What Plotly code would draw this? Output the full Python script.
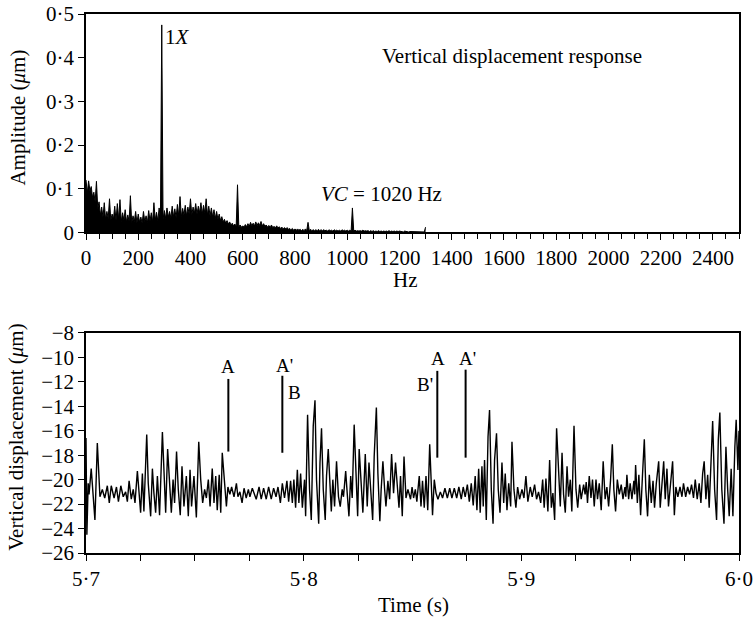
import plotly.graph_objects as go

FONT = "Liberation Serif, Times New Roman, serif"

# ---------------- Top panel: amplitude spectrum ----------------
# spike heights at 10 Hz bins
peak_freq_hz = list(range(0, 1310, 10))
peak_amp_um = [
    0.120, 0.118, 0.105, 0.092, 0.117, 0.070, 0.058, 0.068, 0.048, 0.077,
    0.042, 0.060, 0.066, 0.075, 0.045, 0.052, 0.040, 0.084, 0.038, 0.048,
    0.042, 0.035, 0.048, 0.038, 0.050, 0.045, 0.068, 0.046, 0.056, 0.475,
    0.050, 0.056, 0.048, 0.060, 0.054, 0.064, 0.082, 0.055, 0.062, 0.058,
    0.077, 0.058, 0.066, 0.060, 0.068, 0.062, 0.077, 0.060, 0.056, 0.052,
    0.048, 0.042, 0.036, 0.030, 0.027, 0.024, 0.021, 0.019, 0.109, 0.017,
    0.015, 0.018, 0.020, 0.023, 0.021, 0.024, 0.022, 0.025, 0.020, 0.017,
    0.016, 0.017, 0.014, 0.015, 0.013, 0.012, 0.011, 0.011, 0.009, 0.009,
    0.008, 0.008, 0.007, 0.007, 0.008, 0.023, 0.007, 0.006, 0.006, 0.007,
    0.006, 0.006, 0.005, 0.006, 0.005, 0.006, 0.005, 0.005, 0.006, 0.005,
    0.005, 0.005, 0.056, 0.005, 0.004, 0.004, 0.005, 0.004, 0.004, 0.004,
    0.004, 0.003, 0.004, 0.003, 0.003, 0.003, 0.004, 0.003, 0.003, 0.003,
    0.003, 0.002, 0.003, 0.002, 0.002, 0.002, 0.002, 0.002, 0.002, 0.002,
    0.012,
]
# level of the dense noise mass between the spikes
trough_freq_hz = list(range(5, 1300, 10))
trough_amp_um = [
    0.090, 0.095, 0.080, 0.070, 0.055, 0.040, 0.035, 0.030, 0.032, 0.028,
    0.030, 0.027, 0.030, 0.025, 0.028, 0.024, 0.026, 0.022, 0.025, 0.022,
    0.024, 0.021, 0.025, 0.022, 0.026, 0.024, 0.028, 0.026, 0.030, 0.030,
    0.032, 0.035, 0.033, 0.036, 0.034, 0.038, 0.036, 0.040, 0.038, 0.042,
    0.040, 0.044, 0.042, 0.045, 0.042, 0.044, 0.040, 0.038, 0.035, 0.032,
    0.030, 0.027, 0.024, 0.021, 0.019, 0.017, 0.015, 0.014, 0.013, 0.012,
    0.012, 0.013, 0.014, 0.015, 0.015, 0.016, 0.016, 0.015, 0.014, 0.012,
    0.011, 0.011, 0.010, 0.010, 0.009, 0.008, 0.008, 0.007, 0.006, 0.005,
    0.005, 0.005, 0.004, 0.004, 0.004, 0.004, 0.004, 0.004, 0.004, 0.004,
    0.004, 0.004, 0.003, 0.004, 0.003, 0.004, 0.003, 0.003, 0.004, 0.003,
    0.003, 0.003, 0.003, 0.003, 0.003, 0.003, 0.003, 0.003, 0.002, 0.002,
    0.002, 0.002, 0.002, 0.002, 0.002, 0.002, 0.002, 0.002, 0.002, 0.002,
    0.002, 0.001, 0.002, 0.001, 0.002, 0.001, 0.002, 0.001, 0.002, 0.001,
]

freq_ticks = list(range(0, 2600, 200))
amp_ticks = [0, 0.1, 0.2, 0.3, 0.4, 0.5]
amp_ticktext = ["0", "0·1", "0·2", "0·3", "0·4", "0·5"]

# ---------------- Bottom panel: time history ----------------
time_ms = [
    0.0, 0.4, 1.0, 1.4, 2.4, 3.1, 4.1, 5.2, 6.4, 7.5, 8.6, 9.8, 10.7, 11.6, 12.9, 14.0, 14.9, 16.0,
    17.1, 18.2, 19.0, 19.8, 20.8, 21.7, 22.5, 23.6, 24.3, 25.1, 25.9, 26.6, 27.9, 28.6, 29.7, 30.5,
    31.2, 32.0, 32.8, 33.8, 35.1, 35.8, 36.6, 37.5, 38.4, 39.2, 40.0, 40.7, 41.6, 42.4, 43.3, 44.1,
    45.0, 46.1, 47.0, 47.8, 48.5, 49.6, 50.7, 51.8, 52.7, 53.6, 54.5, 55.3, 56.2, 57.0, 58.0, 58.8,
    59.6, 60.3, 61.2, 61.9, 62.6, 63.4, 64.5, 65.2, 66.1, 66.9, 68.0, 69.1, 69.8, 70.7, 71.7, 72.6,
    73.6, 74.6, 75.3, 76.4,
    78.2, 79.5, 80.5, 81.6, 82.8, 83.9, 85.1, 86.2, 87.3, 88.2, 89.3, 90.2, 91.2, 92.3, 93.1, 94.0,
    94.8, 95.5, 96.3, 97.1, 97.8, 98.6, 99.4, 100.4, 100.9, 101.8, 102.7, 103.5, 104.4, 105.2, 105.9,
    106.9, 107.5, 108.2, 109.0, 109.9, 110.5, 111.3, 112.1, 112.7, 113.4, 114.2, 115.1, 116.0, 116.8,
    117.7, 118.3, 119.3, 120.0, 120.8, 121.6, 122.3, 123.2, 124.0, 124.8, 125.5, 126.5, 127.2, 128.3,
    129.2, 130.0, 130.9, 131.7, 132.4, 133.4, 134.1, 135.0, 135.6, 136.4, 137.2, 137.8, 138.7, 139.5,
    140.4, 141.3, 142.2, 143.0, 143.8, 144.5, 145.3, 146.1, 147.0, 147.9, 149.1,
    149.8, 150.5, 151.3, 152.0, 153.1, 153.9, 154.6, 155.4, 156.2, 157.0, 157.9, 158.6, 159.2, 160.0,
    160.8, 161.7, 162.8, 163.8, 164.9, 166.0, 167.1, 168.1, 169.2, 170.3, 171.3, 172.4, 173.3, 174.2,
    175.2, 176.1, 177.0, 177.9, 178.8, 179.6, 180.4, 181.1, 181.9, 182.5, 183.1, 183.9, 184.7, 185.4,
    186.2, 187.0, 187.7, 188.6, 189.4, 190.2, 191.1, 191.9, 192.6, 193.4, 194.2, 195.1, 195.7, 196.6,
    197.5, 198.3, 199.2, 200.3, 201.2, 202.1, 203.0, 204.1, 205.0, 206.1, 207.0, 207.9, 208.9, 209.8,
    210.5, 211.3, 212.2, 213.0, 213.8, 214.5, 215.3, 216.2, 217.1, 217.9, 218.7, 219.4, 220.2, 221.0,
    221.7, 222.5, 223.2, 224.2, 225.1, 225.9, 226.8, 227.5,
    228.6, 229.3, 229.8, 230.4, 231.2, 232.0, 232.7, 233.5, 234.3, 235.0, 235.8, 236.7, 237.6, 238.5,
    239.3, 240.1, 241.0, 241.8, 242.5, 243.3, 244.1, 245.0, 245.9, 246.7, 247.6, 248.0, 248.5, 249.3,
    250.0, 250.8, 251.7, 252.1, 252.5, 253.3, 254.0, 254.8, 255.7, 256.5, 257.2, 258.0, 258.8, 259.7,
    260.5, 261.2, 262.0, 263.1, 263.8, 264.6, 265.4, 266.1, 266.9, 267.6, 268.6, 269.5, 270.3, 271.0,
    271.9, 272.9, 273.8, 274.5, 275.5, 276.4, 277.3, 278.2, 279.1, 279.9, 280.8, 281.7, 282.5, 283.3,
    284.0, 284.8, 285.6, 286.3, 287.9, 288.8, 289.7, 290.5, 291.2, 292.1, 293.1, 294.0, 294.8, 295.5,
    296.4, 297.2, 298.1, 298.7, 299.5, 300.0,
]
disp_um = [
    -16.6, -24.5, -20.3, -21.2, -19.1, -21.0, -23.3, -17.0, -21.4, -20.8, -21.5, -20.5, -21.9, -20.5, -21.5, -20.6, -21.8, -20.5,
    -21.4, -21.0, -21.8, -20.1, -21.6, -20.8, -21.9, -19.3, -21.2, -22.7, -19.5, -22.6, -16.3, -20.3, -23.0, -19.1,
    -21.1, -22.7, -19.7, -22.9, -16.1, -20.0, -22.7, -17.5, -20.8, -22.7, -20.0, -21.9, -17.7, -20.8, -22.9, -18.9,
    -22.2, -19.7, -23.0, -19.2, -22.2, -19.7, -23.1, -16.9, -20.0, -21.9, -20.8, -21.5, -20.0, -22.2, -19.1, -21.9,
    -19.7, -22.5, -19.6, -22.7, -17.8, -20.0, -22.2, -20.6, -21.2, -20.6, -21.4, -20.3, -21.4, -21.0, -21.9, -20.7,
    -21.5, -20.8, -21.4, -20.7,
    -21.6, -20.6, -21.6, -20.7, -21.6, -20.6, -21.6, -20.7, -21.4, -20.6, -21.9, -20.3, -21.5, -20.1, -21.8, -20.1,
    -21.9, -20.0, -22.3, -19.2, -21.9, -19.5, -22.3, -20.0, -23.0, -14.7, -20.8, -23.3, -15.6, -13.5, -20.0,
    -23.6, -18.6, -15.8, -20.8, -23.3, -19.7, -17.5, -20.8, -22.6, -20.0, -22.2, -18.5, -21.4, -22.2,
    -20.8, -21.4, -19.3, -21.1, -23.0, -19.7, -21.5, -15.5, -20.0, -23.0, -17.5, -20.8, -22.7, -17.9,
    -22.2, -18.6, -20.8, -23.3, -18.1, -14.1, -19.5, -23.4, -20.8, -18.5, -20.8, -22.2, -20.1, -21.6,
    -17.9, -21.1, -18.6, -20.8, -22.3, -19.7, -23.0, -18.1, -21.5, -20.8, -21.6,
    -20.6, -21.5, -20.8, -21.8, -19.7, -22.2, -20.1, -22.3, -19.7, -22.5, -17.1, -20.8, -22.9, -20.0,
    -21.1, -21.6, -21.0, -21.5, -20.7, -21.5, -20.7, -21.5, -20.7, -21.5, -20.6, -21.6, -20.6, -21.4,
    -20.4, -21.8, -20.3, -22.1, -19.7, -22.5, -19.1, -22.7, -18.9, -22.2, -18.4, -23.3, -16.5, -14.3,
    -20.8, -23.6, -18.4, -16.2, -20.8, -22.7, -18.6, -21.9, -19.5, -22.5, -20.3, -22.2, -16.9, -20.8,
    -22.3, -20.6, -21.6, -20.8, -21.5, -19.7, -21.8, -20.6, -21.4, -20.4, -21.6, -21.0, -21.9, -20.0,
    -22.3, -19.9, -22.6, -18.4, -22.3, -21.1, -23.3, -15.8, -20.0, -22.2, -17.8, -21.2, -22.7, -18.9,
    -21.4, -20.0, -22.6, -15.6, -20.8, -22.3, -20.4, -21.6,
    -20.4, -21.2, -20.2, -21.9, -19.7, -21.5, -20.0, -22.2, -20.0, -21.6, -20.3, -22.5, -18.5, -21.6,
    -20.6, -22.2, -20.0, -17.1, -20.8, -22.6, -20.0, -21.2, -20.4, -21.6, -20.6, -21.4, -19.6, -21.6,
    -20.3, -21.6, -20.1, -21.2, -18.8, -21.9, -19.6, -22.9, -19.5, -16.7, -20.8, -23.0, -19.6, -21.9,
    -20.1, -22.3, -20.3, -18.5, -22.3, -20.0, -18.5, -21.6, -19.1, -22.2, -20.0, -18.5, -22.9, -20.6,
    -21.4, -20.6, -21.4, -20.3, -21.4, -20.6, -21.2, -20.4, -21.5, -20.0, -21.6, -20.3, -21.9, -19.5,
    -18.5, -21.6, -19.6, -22.3, -15.2, -20.8, -23.3, -16.7, -14.5, -20.8, -23.6, -17.3, -20.8, -23.0,
    -19.1, -23.0, -17.3, -15.1, -19.2, -16.0,
]

time_ticks = [5.7, 5.8, 5.9, 6.0]
time_ticktext = ["5·7", "5·8", "5·9", "6·0"]
disp_ticks = list(range(-26, -7, 2))
disp_ticktext = ["−%d" % (-v) for v in disp_ticks]

# event markers (vertical bars) and labels
marker_t = [5.7654, 5.7902, 5.8614, 5.8744]
marker_top = [-11.76, -11.5, -11.1, -11.0]
marker_bottom = [-17.7, -17.8, -18.2, -18.2]
label_text = ["A", "A'", "B", "A", "A'", "B'"]
label_t = [5.7654, 5.7910, 5.7960, 5.8616, 5.8752, 5.8558]
label_y = [-10.76, -10.68, -12.83, -10.1, -10.1, -12.2]

# ---------------- build figure ----------------
freq, amp = [], []
for i, p in enumerate(peak_amp_um):
    freq.append(peak_freq_hz[i])
    amp.append(p)
    if i < len(trough_amp_um):
        freq.append(trough_freq_hz[i])
        amp.append(trough_amp_um[i])

t_s = [5.7 + m / 1000.0 for m in time_ms]

mx, my = [], []
for t, a, b in zip(marker_t, marker_top, marker_bottom):
    mx += [t, t, None]
    my += [a, b, None]

fig = go.Figure()
fig.add_trace(go.Scatter(x=freq, y=amp, mode="lines", line=dict(color="black", width=1),
                         fill="tozeroy", fillcolor="black",
                         xaxis="x", yaxis="y", hoverinfo="skip"))
fig.add_trace(go.Scatter(x=t_s, y=disp_um, mode="lines", line=dict(color="black", width=1.4),
                         xaxis="x2", yaxis="y2", hoverinfo="skip"))
fig.add_trace(go.Scatter(x=mx, y=my, mode="lines", line=dict(color="black", width=2),
                         xaxis="x2", yaxis="y2", hoverinfo="skip"))

axis_common = dict(showline=True, linecolor="black", linewidth=1.5, mirror=True,
                   showgrid=False, zeroline=False, ticks="outside", ticklen=6, tickwidth=1.3,
                   tickcolor="black", automargin=False,
                   tickfont=dict(family=FONT, size=21, color="black"))

annotations = [
    dict(text="1<i>X</i>", x=293, y=0.448, xref="x", yref="y", xanchor="left", yanchor="middle",
         showarrow=False, font=dict(family=FONT, size=21, color="black")),
    dict(text="Vertical displacement response", x=1125, y=0.404, xref="x", yref="y",
         xanchor="left", yanchor="middle", showarrow=False,
         font=dict(family=FONT, size=21, color="black")),
    dict(text="<i>VC</i> = 1020 Hz", x=893, y=0.088, xref="x", yref="y", xanchor="left",
         yanchor="middle", showarrow=False, font=dict(family=FONT, size=21, color="black")),
    dict(text="Hz", x=0.49, y=0.507, xref="paper", yref="paper", xanchor="center",
         yanchor="middle", showarrow=False, font=dict(family=FONT, size=21, color="black")),
    dict(text="Time (s)", x=0.502, y=-0.096, xref="paper", yref="paper", xanchor="center",
         yanchor="middle", showarrow=False, font=dict(family=FONT, size=21, color="black")),
    dict(text="Amplitude (<i>μ</i>m)", x=-0.104, y=0.808, xref="paper", yref="paper",
         xanchor="center", yanchor="middle", textangle=-90, showarrow=False,
         font=dict(family=FONT, size=21, color="black")),
    dict(text="Vertical displacement (<i>μ</i>m)", x=-0.107, y=0.214, xref="paper", yref="paper",
         xanchor="center", yanchor="middle", textangle=-90, showarrow=False,
         font=dict(family=FONT, size=21, color="black")),
]
for txt, tx, ty in zip(label_text, label_t, label_y):
    annotations.append(dict(text=txt, x=tx, y=ty, xref="x2", yref="y2", xanchor="center",
                            yanchor="middle", showarrow=False,
                            font=dict(family=FONT, size=19, color="black")))

fig.update_layout(
    width=753, height=624,
    margin=dict(l=86, r=14, t=14, b=71),
    paper_bgcolor="white", plot_bgcolor="white",
    showlegend=False,
    font=dict(family=FONT, size=21, color="black"),
    xaxis=dict(domain=[0, 1], range=[0, 2500], anchor="y", tickmode="array", tickvals=freq_ticks,
               minor=dict(dtick=50, tick0=0, ticks="outside", ticklen=5, tickwidth=1.2,
                          tickcolor="black"), **axis_common),
    yaxis=dict(domain=[0.5948, 1], range=[0, 0.5], anchor="x", tickmode="array",
               tickvals=amp_ticks, ticktext=amp_ticktext, **axis_common),
    xaxis2=dict(domain=[0, 1], range=[5.7, 6.0], anchor="y2", tickmode="array",
                tickvals=time_ticks, ticktext=time_ticktext,
                minor=dict(dtick=0.025, tick0=5.7, ticks="outside", ticklen=6, tickwidth=1.3,
                           tickcolor="black"), **axis_common),
    yaxis2=dict(domain=[0, 0.4082], range=[-26, -8], anchor="x2", tickmode="array",
                tickvals=disp_ticks, ticktext=disp_ticktext, **axis_common),
    annotations=annotations,
)

fig.write_html("out.html")
